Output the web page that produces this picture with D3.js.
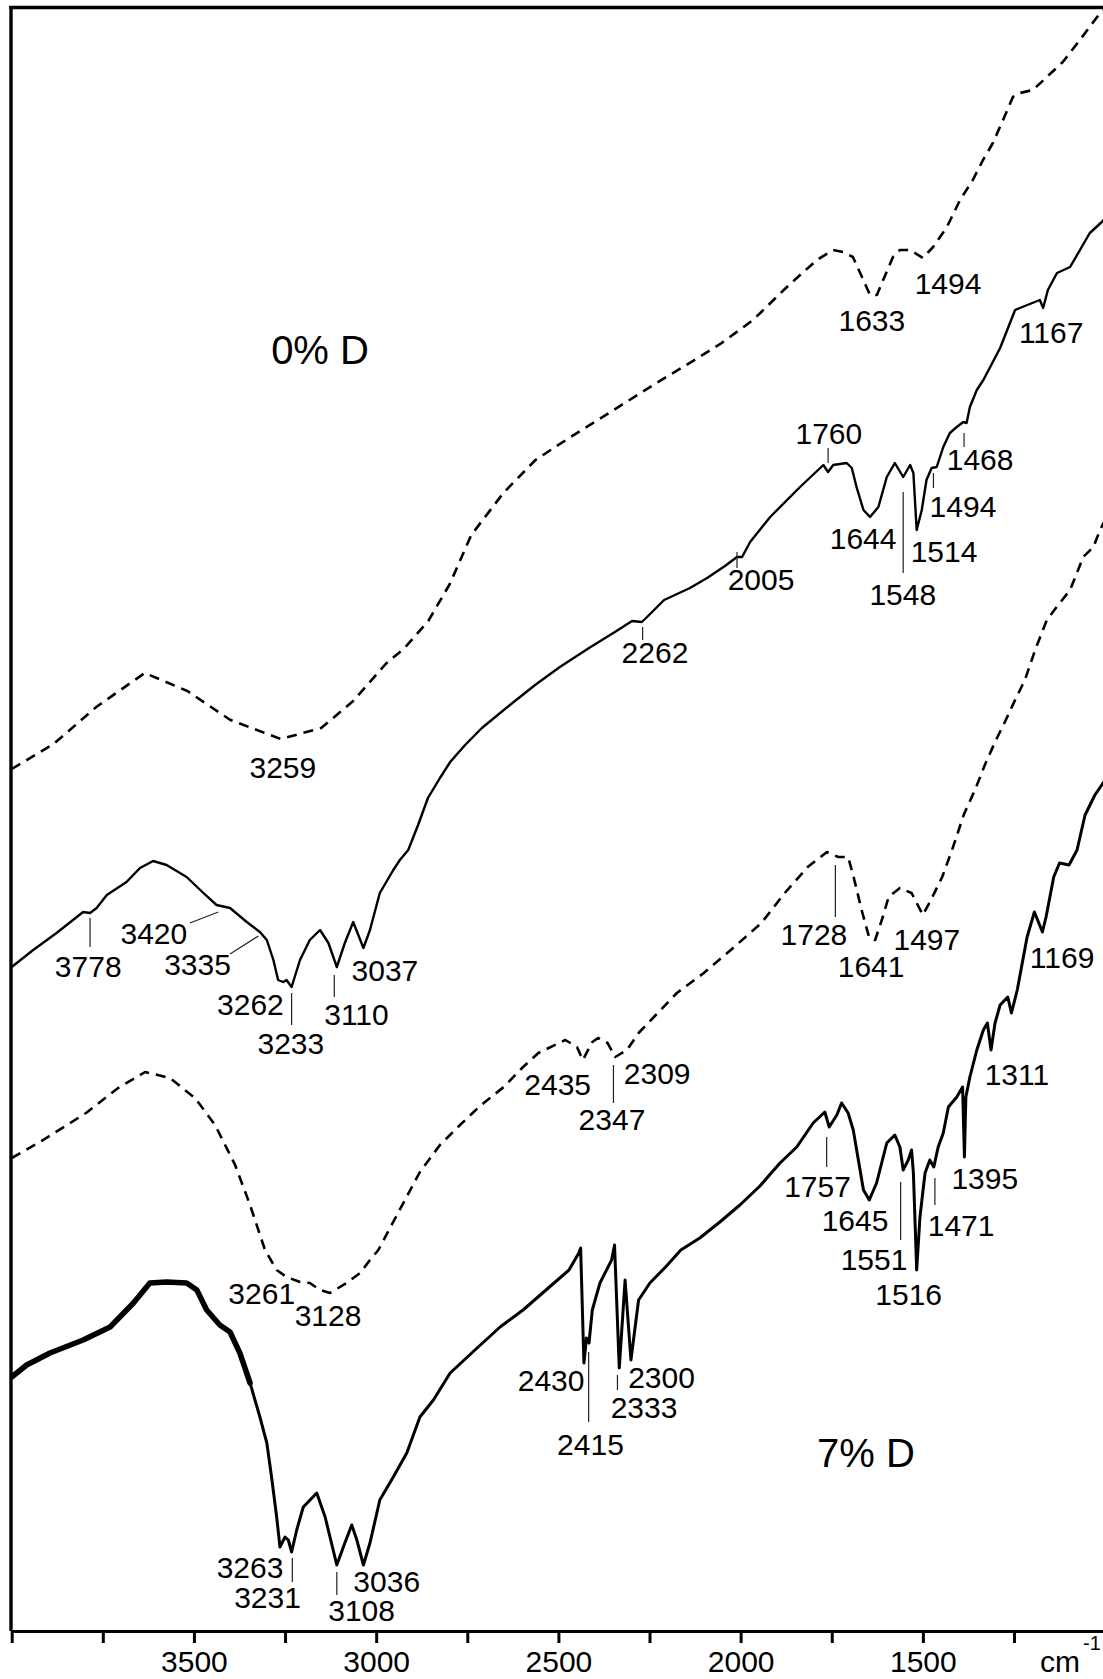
<!DOCTYPE html>
<html>
<head>
<meta charset="utf-8">
<script src="https://cdn.jsdelivr.net/npm/d3@7"></script>
<style>
  html, body { margin: 0; padding: 0; background: #fff; }
  svg { display: block; }
</style>
</head>
<body>
<svg id="chart" width="1103" height="1679"></svg>
<script>
// ---------------- DATA (wavenumber in cm-1, transmittance in arbitrary offset units) ----------------
// Spectrum A : 0% D, dashed
const wnA = [4000,3885,3768,3635,3518,3400,3262,3151,3063,2974,2922,2857,2798,2739,2651,2563,2475,2357,2240,2122,2052,1966,1873,1791,1747,1719,1692,1667,1645,1626,1609,1582,1563,1535,1500,1472,1434,1398,1363,1335,1308,1280,1253,1234,1198,1160,1116,1069,1022,1000];
const tA  = [862,887,924,958,940,911,892,903,930,967,983,1010,1047,1096,1138,1171,1192,1219,1246,1272,1288,1311,1344,1371,1381,1379,1374,1354,1336,1336,1351,1374,1381,1381,1373,1384,1404,1431,1451,1471,1488,1511,1534,1538,1541,1554,1569,1591,1614,1622];

// Spectrum B : 0% D, solid
const wnB = [4000,3941,3877,3804,3785,3767,3739,3685,3648,3612,3575,3520,3474,3438,3401,3355,3319,3300,3282,3269,3255,3246,3232,3209,3182,3154,3131,3108,3086,3063,3035,3017,2990,2953,2935,2912,2885,2858,2825,2797,2756,2710,2633,2564,2496,2416,2345,2298,2271,2254,2210,2139,2092,2043,2010,1996,1974,1919,1837,1773,1760,1746,1709,1695,1682,1663,1645,1622,1599,1577,1554,1535,1526,1517,1503,1490,1476,1462,1444,1426,1407,1389,1380,1371,1352,1334,1288,1247,1234,1179,1170,1157,1132,1096,1069,1042,1009,1000];
const tB  = [664,681,698,719,718,723,736,749,763,770,766,754,738,726,723,709,699,691,671,651,649,651,644,671,691,701,688,664,688,709,683,701,738,761,771,781,806,833,853,869,886,903,926,946,964,983,999,1010,1009,1015,1031,1043,1053,1065,1074,1074,1089,1114,1144,1166,1159,1166,1168,1163,1144,1121,1114,1124,1154,1168,1154,1166,1158,1101,1121,1151,1163,1164,1184,1198,1204,1209,1208,1224,1241,1251,1283,1321,1323,1331,1323,1341,1358,1364,1381,1398,1409,1413];

// Spectrum C : 7% D, dashed
const wnC = [4000,3914,3796,3708,3634,3566,3497,3442,3387,3346,3305,3273,3246,3209,3182,3154,3127,3081,3044,3017,2994,2962,2921,2880,2825,2770,2715,2650,2597,2555,2481,2449,2433,2407,2391,2365,2344,2312,2280,2238,2175,2101,2027,1943,1879,1816,1763,1732,1705,1690,1668,1647,1631,1610,1594,1563,1531,1500,1478,1447,1420,1387,1357,1330,1302,1275,1247,1220,1192,1160,1133,1096,1060,1032,1014,1000];
const tC  = [473,491,518,543,559,553,533,506,466,426,381,361,354,349,348,341,338,348,358,371,381,403,431,459,486,506,525,544,564,578,591,584,571,589,593,588,574,581,598,614,638,658,681,708,738,764,779,774,774,754,721,693,691,714,734,743,738,716,731,754,781,817,841,866,889,909,931,951,981,1011,1024,1041,1074,1084,1101,1111];

// Spectrum D : 7% D, solid
const wnD = [4000,3959,3895,3804,3730,3666,3621,3575,3520,3492,3465,3429,3401,3374,3346,3319,3300,3287,3273,3264,3250,3241,3232,3218,3200,3163,3140,3108,3086,3067,3053,3035,3017,2990,2953,2916,2880,2843,2797,2729,2660,2597,2534,2471,2444,2439,2430,2423,2416,2407,2386,2354,2346,2333,2317,2301,2280,2249,2206,2164,2112,2057,2002,1947,1892,1846,1801,1769,1757,1736,1723,1705,1691,1677,1663,1647,1627,1599,1577,1563,1554,1540,1531,1526,1517,1508,1494,1481,1470,1458,1444,1430,1407,1391,1386,1382,1371,1352,1334,1323,1313,1302,1288,1267,1257,1241,1214,1194,1172,1162,1141,1125,1099,1077,1055,1028,1000];
const tD  = [254,266,278,291,304,328,348,349,348,341,321,306,299,278,248,214,188,154,114,84,94,91,79,101,124,138,114,66,88,106,91,66,88,131,154,178,214,231,258,281,304,321,341,361,378,383,268,293,288,321,348,371,386,263,351,271,331,348,364,381,393,409,426,445,468,484,508,519,504,516,528,518,501,471,441,431,448,488,496,484,461,471,481,458,361,414,458,471,464,484,498,524,534,544,474,534,554,581,601,608,581,608,626,634,618,641,694,719,699,714,754,768,766,781,816,836,851];
// Wavenumber above which spectrum D is visibly noisy (drawn as a thicker band)
const noisyFromD = 3330;

// Axis ticks
const axisTicks  = [4000,3750,3500,3250,3000,2750,2500,2250,2000,1750,1500,1250];
const axisLabels = [3500,3000,2500,2000,1500];

// Peak labels: text, label centre (cm-1, a.u.)
const peakLabels = [
  ["3259",3256,864],["1633",1640,1311],["1494",1431,1348],
  ["3778",3790,665],["3420",3610,698],["3335",3490,667],["3262",3345,627],["3233",3234,588],
  ["3110",3054,617],["3037",2976,661],["2262",2235,979],["2005",1944,1052],["1760",1758,1198],
  ["1644",1664,1093],["1548",1555,1037],["1514",1442,1080],["1494",1390,1125],["1468",1343,1172],["1167",1148,1299],
  ["3261",3314,338],["3128",3132,316],["2435",2502,547],["2347",2353,512],["2309",2229,558],
  ["1728",1799,697],["1641",1642,665],["1497",1489,692],["1169",1118,674],
  ["3263",3346,64],["3231",3298,34],["3108",3040,21],["3036",2971,50],["2430",2520,251],
  ["2415",2412,187],["2333",2265,224],["2300",2217,254],["1757",1789,445],["1645",1686,411],
  ["1551",1634,372],["1516",1539,337],["1471",1395,406],["1395",1330,453],["1311",1242,557]
];
// Vertical marker lines: cm-1, from a.u., to a.u.
const markerLines = [
  [3785,713,684],[3232,638,606],[3115,656,634],[2269,1004,991],[2010,1079,1063],[1760,1183,1168],
  [1554,1139,1058],[1471,1158,1143],[1387,1198,1184],
  [2349,566,528],[1740,766,714],
  [3230,73,49],[3108,59,36],[2417,279,209],[2338,256,241],[1764,494,464],[1561,449,391],[1467,453,426]
];
// Slanted leader lines: w1, v1, w2, v2
const leaderLines = [[3511,708,3433,719],[3401,677,3323,695]];
// Sample titles
const titles = [["0% D",3154,1281],["7% D",1656,178]];

// ---------------- DRAWING ----------------
const svg = d3.select("#chart");
const FONT = "'Liberation Sans', Arial, Helvetica, sans-serif";

const x = d3.scaleLinear().domain([4000, 1000]).range([11.7, 1105.1]);
const y = d3.scaleLinear().domain([0, 1623.5]).range([1631, 7.5]);

svg.append("clipPath").attr("id","plotclip")
  .append("rect").attr("x", 11).attr("y", 7).attr("width", 1100).attr("height", 1624);

const line = d3.line().x(d => x(d[0])).y(d => y(d[1])).curve(d3.curveLinear);
const series = [
  {w: wnA, t: tA, dash: "10,7", sw: 2.6},
  {w: wnB, t: tB, dash: null,   sw: 2.4},
  {w: wnC, t: tC, dash: "10,7", sw: 2.6},
  {w: wnD, t: tD, dash: null,   sw: 3.0}
];
const gLines = svg.append("g").attr("clip-path","url(#plotclip)");
series.forEach(s => {
  gLines.append("path")
    .datum(d3.zip(s.w, s.t))
    .attr("d", line)
    .attr("fill","none")
    .attr("stroke","#000")
    .attr("stroke-width", s.sw)
    .attr("stroke-linejoin","round")
    .attr("stroke-dasharray", s.dash);
});
// thicker band for the noisy high-wavenumber part of D
gLines.append("path")
  .datum(d3.zip(wnD, tD).filter(d => d[0] >= noisyFromD))
  .attr("d", line)
  .attr("fill","none").attr("stroke","#000").attr("stroke-width",5.5)
  .attr("stroke-linejoin","round").attr("stroke-linecap","round");

// Frame: left and top
svg.append("line").attr("x1", x(4000)-0.7).attr("x2", x(4000)-0.7).attr("y1", y(1625)).attr("y2", y(0))
  .attr("stroke","#000").attr("stroke-width",3.4);
svg.append("line").attr("x1", x(4000)-2.4).attr("x2", 1103).attr("y1", y(1623.5)).attr("y2", y(1623.5))
  .attr("stroke","#000").attr("stroke-width",3.4);

// Bottom axis
const axis = d3.axisBottom(x).tickValues(axisTicks).tickSize(12).tickSizeOuter(0).tickPadding(8)
  .tickFormat(d => axisLabels.includes(d) ? String(d) : "");
const gAxis = svg.append("g").attr("transform", `translate(0,${y(0)})`).call(axis);
gAxis.select(".domain").attr("stroke","#000").attr("stroke-width",3);
gAxis.selectAll(".tick line").attr("stroke","#000").attr("stroke-width",3);
gAxis.selectAll(".tick text").attr("font-size",30).attr("font-family",FONT).attr("fill","#000");
svg.append("text").attr("x",1040).attr("y",1672).attr("font-size",30).attr("font-family",FONT).text("cm");
svg.append("text").attr("x",1083).attr("y",1650).attr("font-size",20).attr("font-family",FONT).text("-1");

// Marker lines
svg.append("g").selectAll("line").data(markerLines).join("line")
  .attr("x1", d => x(d[0])).attr("x2", d => x(d[0]))
  .attr("y1", d => y(d[1])).attr("y2", d => y(d[2]))
  .attr("stroke","#222").attr("stroke-width",1.2);
svg.append("g").selectAll("line").data(leaderLines).join("line")
  .attr("x1", d => x(d[0])).attr("y1", d => y(d[1]))
  .attr("x2", d => x(d[2])).attr("y2", d => y(d[3]))
  .attr("stroke","#222").attr("stroke-width",1.2);

// Peak labels
svg.append("g").selectAll("text").data(peakLabels).join("text")
  .attr("x", d => x(d[1])).attr("y", d => y(d[2])).attr("dy","0.36em")
  .attr("text-anchor","middle").attr("font-size",30).attr("font-family",FONT).attr("fill","#000")
  .text(d => d[0]);

// Titles
svg.append("g").selectAll("text").data(titles).join("text")
  .attr("x", d => x(d[1])).attr("y", d => y(d[2])).attr("dy","0.36em")
  .attr("text-anchor","middle").attr("font-size",40).attr("font-family",FONT).attr("fill","#000")
  .text(d => d[0]);
</script>
</body>
</html>
